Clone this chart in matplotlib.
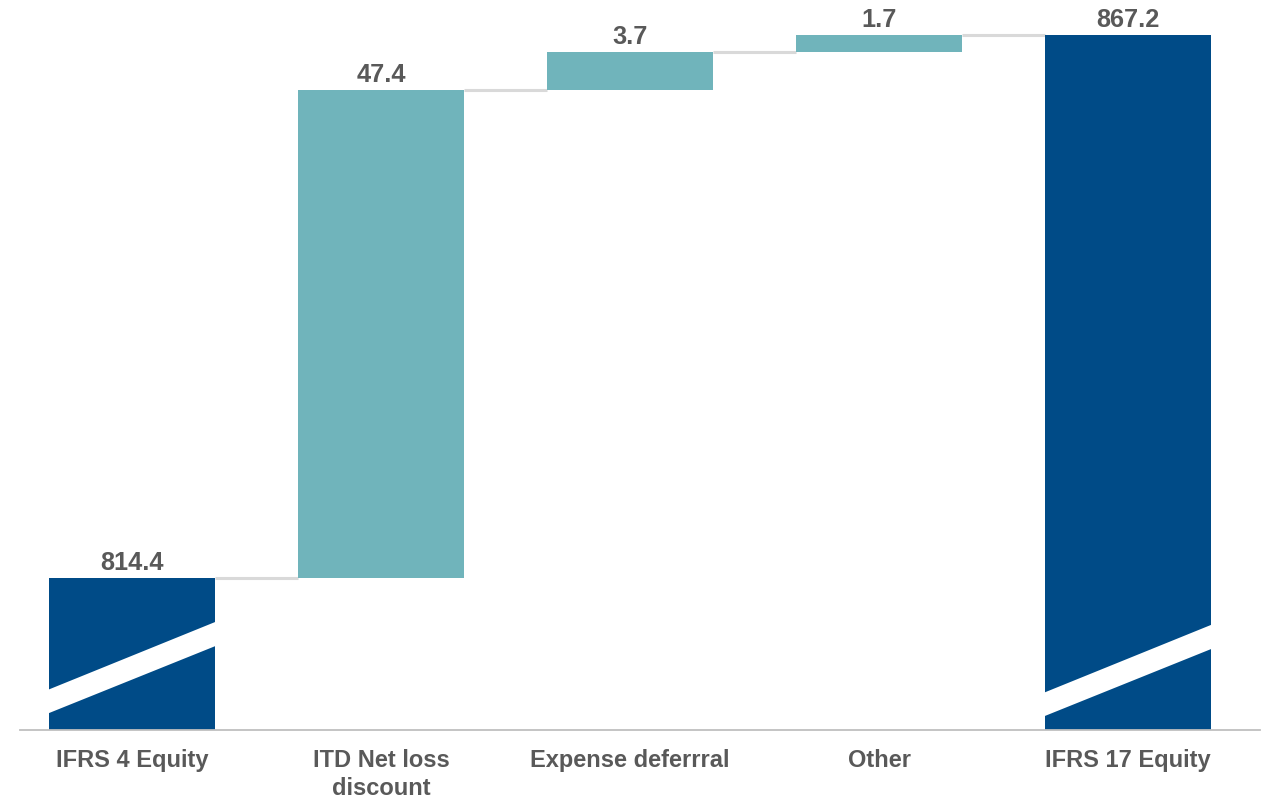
import numpy as np
import matplotlib.pyplot as plt
plt.switch_backend('agg')

plt.rcParams['font.family'] = ['Liberation Sans', 'DejaVu Sans']

categories = ["IFRS 4 Equity", "ITD Net loss\ndiscount", "Expense deferrral", "Other", "IFRS 17 Equity"]
values = [814.4, 47.4, 3.7, 1.7, 867.2]
is_total = [True, False, False, False, True]

dark_blue = "#004B87"
teal = "#70B4BB"
text_grey = "#595959"

# waterfall bottoms / tops
bottoms, tops = [], []
running = 0.0
for v, tot in zip(values, is_total):
    if tot:
        bottoms.append(0.0)
        tops.append(v)
        running = v
    else:
        bottoms.append(running)
        tops.append(running + v)
        running += v

fig = plt.figure(figsize=(12.71, 7.98), dpi=100)
ax = fig.add_axes([20/1271, 68/798, 1240/1271, 730/798])

x = np.arange(len(categories))
w = 0.667
colors = [dark_blue if t else teal for t in is_total]
ax.bar(x, np.array(tops) - np.array(bottoms), bottom=bottoms, width=w,
       color=colors, zorder=2)

ylo, yhi = 799.6, 870.6
ax.set_ylim(ylo, yhi)
ax.set_xlim(-0.45, 4.53)

# connectors
for i in range(len(x) - 1):
    ax.plot([x[i] + w/2, x[i+1] - w/2], [tops[i], tops[i]], color="#D9D9D9",
            lw=2.2, zorder=1, solid_capstyle='butt')

# axis-break stripes on the total bars
for i, tot in enumerate(is_total):
    if not tot:
        continue
    off = 0.0 if i == 0 else -0.28
    xl, xr = x[i] - w/2 - 0.01, x[i] + w/2 + 0.01
    poly = [(xl, 803.45 + off), (xr, 810.2 + off), (xr, 807.85 + off), (xl, 801.15 + off)]
    ax.add_patch(plt.Polygon(poly, closed=True, color="white", zorder=3, lw=0))

# value labels
for i, v in enumerate(values):
    ax.text(x[i], tops[i] + 0.3, f"{v:.1f}", ha="center", va="bottom",
            fontsize=18.3, fontweight="bold", color=text_grey, clip_on=False)

ax.set_xticks(x)
ax.set_xticklabels(categories, fontsize=17, fontweight="bold", color=text_grey,
                   linespacing=1.3)
ax.tick_params(axis="x", length=0, pad=13.5)
ax.set_yticks([])
for s in ["top", "left", "right"]:
    ax.spines[s].set_visible(False)
ax.spines["bottom"].set_color("#BFBFBF")
ax.spines["bottom"].set_linewidth(1.3)

fig.savefig("out.png", dpi=100)
